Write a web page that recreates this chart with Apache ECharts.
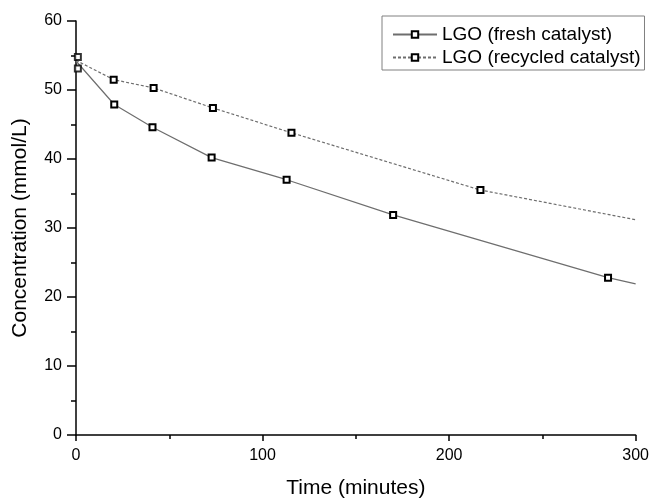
<!DOCTYPE html>
<html>
<head>
<meta charset="utf-8">
<script src="https://cdn.jsdelivr.net/npm/echarts@6/dist/echarts.min.js"></script>
<style>
html,body{margin:0;padding:0;background:#fff;}
#chart{width:652px;height:504px;}
</style>
</head>
<body>
<div id="chart"></div>
<script>
// Measured points (time in minutes, concentration in mmol/L)
const freshTime = [1, 20.5, 41, 72.7, 112.9, 170, 285.2];
const freshConc = [54.8, 47.9, 44.6, 40.2, 37.0, 31.9, 22.8];
const recycledTime = [1, 20.2, 41.6, 73.4, 115.5, 216.8];
const recycledConc = [53.1, 51.5, 50.3, 47.4, 43.8, 35.5];
// Fitted curve end points
const freshCurveStart = [0, 54.2];
const freshCurveEnd = [300, 21.9];
const recycledCurveStart = [0, 54.3];
const recycledCurveEnd = [300, 31.2];

const xTicks = [0, 100, 200, 300];
const yTicks = [0, 10, 20, 30, 40, 50, 60];

const nameFresh = 'LGO (fresh catalyst)';
const nameRecycled = 'LGO (recycled catalyst)';

function curveData(times, concs, start, end) {
  const d = [{ value: start, symbol: 'none' }];
  for (let i = 1; i < times.length; i++) d.push([times[i], concs[i]]);
  d.push({ value: end, symbol: 'none' });
  return d;
}

const markerStyle = { color: '#ffffff', borderColor: '#000000', borderWidth: 2 };
const font = 'Liberation Sans, Arial, sans-serif';

const chart = echarts.init(document.getElementById('chart'), null, { renderer: 'canvas' });
chart.setOption({
  animation: false,
  backgroundColor: '#ffffff',
  textStyle: { fontFamily: font, color: '#000' },
  grid: { left: 76, right: 16, top: 21, bottom: 64, containLabel: false },
  legend: {
    orient: 'vertical',
    left: 382,
    top: 16,
    padding: [9, 4, 3, 10],
    itemWidth: 44,
    itemHeight: 8,
    itemGap: 4,
    borderColor: '#808080',
    borderWidth: 1,
    borderRadius: 0,
    textStyle: { fontSize: 19, fontFamily: font, color: '#000', lineHeight: 19 },
    data: [nameFresh, nameRecycled]
  },
  xAxis: {
    type: 'value',
    min: xTicks[0],
    max: xTicks[xTicks.length - 1],
    interval: 100,
    name: 'Time (minutes)',
    nameLocation: 'middle',
    nameGap: 43,
    nameTextStyle: { fontSize: 21, fontFamily: font, color: '#000' },
    axisLine: { show: true, onZero: false, lineStyle: { color: '#000', width: 1.5 } },
    axisTick: { show: true, inside: false, length: 6, lineStyle: { color: '#000', width: 1.5 } },
    minorTick: { show: true, splitNumber: 2, length: 4, lineStyle: { color: '#000', width: 1.5 } },
    axisLabel: { fontSize: 16, margin: 13, color: '#000', fontFamily: font },
    splitLine: { show: false }
  },
  yAxis: {
    type: 'value',
    min: yTicks[0],
    max: yTicks[yTicks.length - 1],
    interval: 10,
    name: 'Concentration (mmol/L)',
    nameLocation: 'middle',
    nameGap: 45,
    nameTextStyle: { fontSize: 21, fontFamily: font, color: '#000' },
    axisLine: { show: true, onZero: false, lineStyle: { color: '#000', width: 1.5 } },
    axisTick: { show: true, inside: false, length: 9, lineStyle: { color: '#000', width: 1.5 } },
    minorTick: { show: true, splitNumber: 2, length: 5, lineStyle: { color: '#000', width: 1.5 } },
    axisLabel: { fontSize: 16, margin: 14, color: '#000', fontFamily: font },
    splitLine: { show: false }
  },
  series: [
    {
      name: nameFresh,
      type: 'line',
      data: curveData(freshTime, freshConc, freshCurveStart, freshCurveEnd),
      symbol: 'rect',
      symbolSize: 6,
      showAllSymbol: true,
      lineStyle: { color: '#6e6e6e', width: 1.2, type: 'solid' },
      itemStyle: markerStyle,
      z: 2
    },
    {
      name: nameRecycled,
      type: 'line',
      data: curveData(recycledTime, recycledConc, recycledCurveStart, recycledCurveEnd),
      symbol: 'rect',
      symbolSize: 6,
      showAllSymbol: true,
      lineStyle: { color: '#6e6e6e', width: 1.2, type: [3, 2] },
      itemStyle: markerStyle,
      z: 2
    },
    {
      name: nameFresh,
      type: 'scatter',
      data: [[freshTime[0], freshConc[0]]],
      symbol: 'rect',
      symbolSize: 6,
      itemStyle: markerStyle,
      z: 3
    },
    {
      name: nameRecycled,
      type: 'scatter',
      data: [[recycledTime[0], recycledConc[0]]],
      symbol: 'rect',
      symbolSize: 6,
      itemStyle: markerStyle,
      z: 3
    }
  ]
});
</script>
</body>
</html>
